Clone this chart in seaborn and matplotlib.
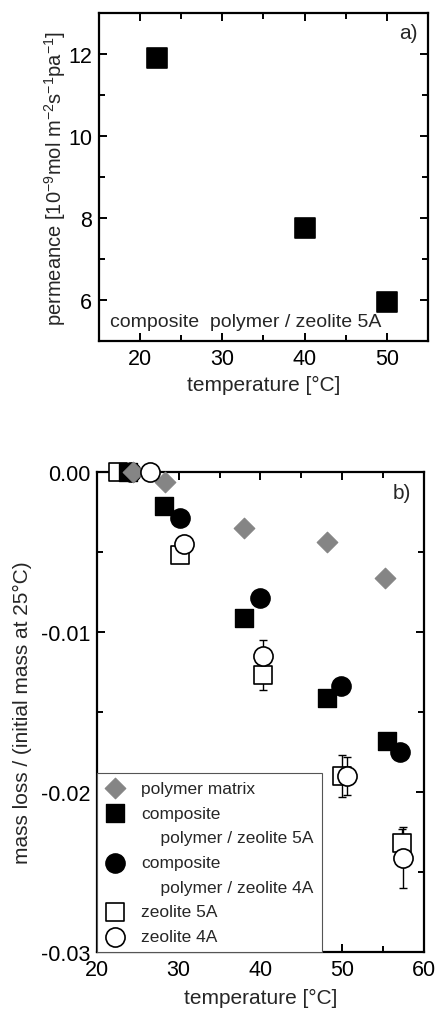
import matplotlib
matplotlib.use("Agg")
import matplotlib.pyplot as plt
import seaborn as sns
import pandas as pd
from matplotlib.ticker import MultipleLocator, FuncFormatter
from matplotlib.lines import Line2D

# ---- data panel a) ----
temp_a = [22, 40, 50]
perm_a = [11.9, 7.75, 5.95]

# ---- data panel b) ----
polymer_T = [24.4, 28.3, 38.0, 48.2, 55.3]
polymer_m = [0.0, -0.0006, -0.0035, -0.0044, -0.0066]
comp5A_T = [23.8, 28.2, 38.0, 48.2, 55.5]
comp5A_m = [0.0, -0.0021, -0.0091, -0.0141, -0.0168]
comp4A_T = [24.2, 30.1, 39.9, 49.8, 57.1]
comp4A_m = [0.0, -0.0029, -0.0079, -0.0134, -0.0175]
zeo5A_T = [22.6, 30.1, 40.3, 50.0, 57.3]
zeo5A_m = [0.0, -0.0052, -0.0127, -0.0190, -0.0232]
zeo5A_err = [0.0, 0.0002, 0.0009, 0.0013, 0.0009]
zeo4A_T = [26.5, 30.7, 40.3, 50.6, 57.5]
zeo4A_m = [0.0, -0.0045, -0.0115, -0.0190, -0.0241]
zeo4A_err = [0.0, 0.0003, 0.0010, 0.0012, 0.0019]

sns.set_theme(style="ticks")
plt.rcParams['font.family'] = ['Liberation Sans', 'DejaVu Sans']
plt.rcParams['mathtext.fontset'] = 'custom'
plt.rcParams['mathtext.rm'] = 'Liberation Sans'
plt.rcParams['mathtext.it'] = 'Liberation Sans'

fig = plt.figure(figsize=(4.37, 10.12), dpi=100)
axA = fig.add_axes([0.2265, 0.662, 0.7525, 0.324])
axB = fig.add_axes([0.222, 0.0583, 0.748, 0.4743])

def style_ax(ax):
    for s in ax.spines.values():
        s.set_linewidth(1.6)
        s.set_color('black')
    ax.tick_params(which='both', direction='in', top=True, right=True,
                   labelsize=15.5, colors='black', width=1.4)
    ax.tick_params(which='major', length=6, pad=5)
    ax.tick_params(which='minor', length=4)

# ---- panel a ----
dfa = pd.DataFrame({'T': temp_a, 'P': perm_a})
sns.scatterplot(data=dfa, x='T', y='P', marker='s', s=220, color='black',
                edgecolor='black', ax=axA, legend=False)
axA.set_xlim(15, 55)
axA.set_ylim(5, 13)
axA.xaxis.set_major_locator(MultipleLocator(10))
axA.xaxis.set_minor_locator(MultipleLocator(5))
axA.yaxis.set_major_locator(MultipleLocator(2))
axA.yaxis.set_minor_locator(MultipleLocator(1))
style_ax(axA)
axA.set_xlabel('temperature [°C]', fontsize=15, labelpad=4)
axA.set_ylabel(r'permeance [10$^{-9}$mol m$^{-2}$s$^{-1}$pa$^{-1}$]', fontsize=14.5, labelpad=0)
axA.text(0.97, 0.94, 'a)', transform=axA.transAxes, ha='right', va='center', fontsize=15)
axA.text(0.035, 0.061, 'composite  polymer / zeolite 5A', transform=axA.transAxes,
         ha='left', va='center', fontsize=14)

# ---- panel b ----
gray = '#858585'
axB.errorbar(zeo5A_T, zeo5A_m, yerr=zeo5A_err, fmt='none', ecolor='black',
             elinewidth=1, capsize=3, capthick=1, zorder=1)
axB.errorbar(zeo4A_T, zeo4A_m, yerr=zeo4A_err, fmt='none', ecolor='black',
             elinewidth=1, capsize=3, capthick=1, zorder=1)
sns.scatterplot(x=zeo5A_T, y=zeo5A_m, marker='s', s=150, color='white',
                edgecolor='black', linewidth=1.2, ax=axB, label='zeolite 5A',
                clip_on=False, zorder=3)
sns.scatterplot(x=comp5A_T, y=comp5A_m, marker='s', s=150, color='black',
                edgecolor='black', ax=axB, label='composite 5A',
                clip_on=False, zorder=3)
sns.scatterplot(x=comp4A_T, y=comp4A_m, marker='o', s=190, color='black',
                edgecolor='black', ax=axB, label='composite 4A',
                clip_on=False, zorder=3)
sns.scatterplot(x=polymer_T, y=polymer_m, marker='D', s=110, color=gray,
                edgecolor=gray, ax=axB, label='polymer matrix',
                clip_on=False, zorder=4)
sns.scatterplot(x=zeo4A_T, y=zeo4A_m, marker='o', s=190, color='white',
                edgecolor='black', linewidth=1.2, ax=axB, label='zeolite 4A',
                clip_on=False, zorder=4)
axB.set_xlim(20, 60)
axB.set_ylim(-0.03, 0.0)
axB.xaxis.set_major_locator(MultipleLocator(10))
axB.xaxis.set_minor_locator(MultipleLocator(5))
axB.yaxis.set_major_locator(MultipleLocator(0.01))
axB.yaxis.set_minor_locator(MultipleLocator(0.005))
axB.yaxis.set_major_formatter(FuncFormatter(
    lambda v, p: '0.00' if abs(v) < 1e-9 else '%g' % round(v, 3)))
style_ax(axB)
axB.set_xlabel('temperature [°C]', fontsize=15, labelpad=6)
axB.set_ylabel('mass loss / (initial mass at 25°C)', fontsize=15, labelpad=6)
axB.text(0.96, 0.958, 'b)', transform=axB.transAxes, ha='right', va='center', fontsize=15)

h, l = axB.get_legend_handles_labels()
hd = dict(zip(l, h))
blank = Line2D([], [], linestyle='none', marker=None)
handles = [hd['polymer matrix'], hd['composite 5A'], blank,
           hd['composite 4A'], blank, hd['zeolite 5A'], hd['zeolite 4A']]
labels = ['polymer matrix', 'composite', '    polymer / zeolite 5A',
          'composite', '    polymer / zeolite 4A', 'zeolite 5A', 'zeolite 4A']
leg = axB.legend(handles, labels, loc='lower left',
                 bbox_to_anchor=(0.0, 0.0), fontsize=12.5, frameon=True,
                 fancybox=False, edgecolor='#555555', framealpha=1,
                 borderpad=0.45, labelspacing=0.55, handletextpad=0.9,
                 handlelength=1.2, borderaxespad=0.0)
leg.get_frame().set_linewidth(0.8)

fig.savefig('out.png', dpi=100)
